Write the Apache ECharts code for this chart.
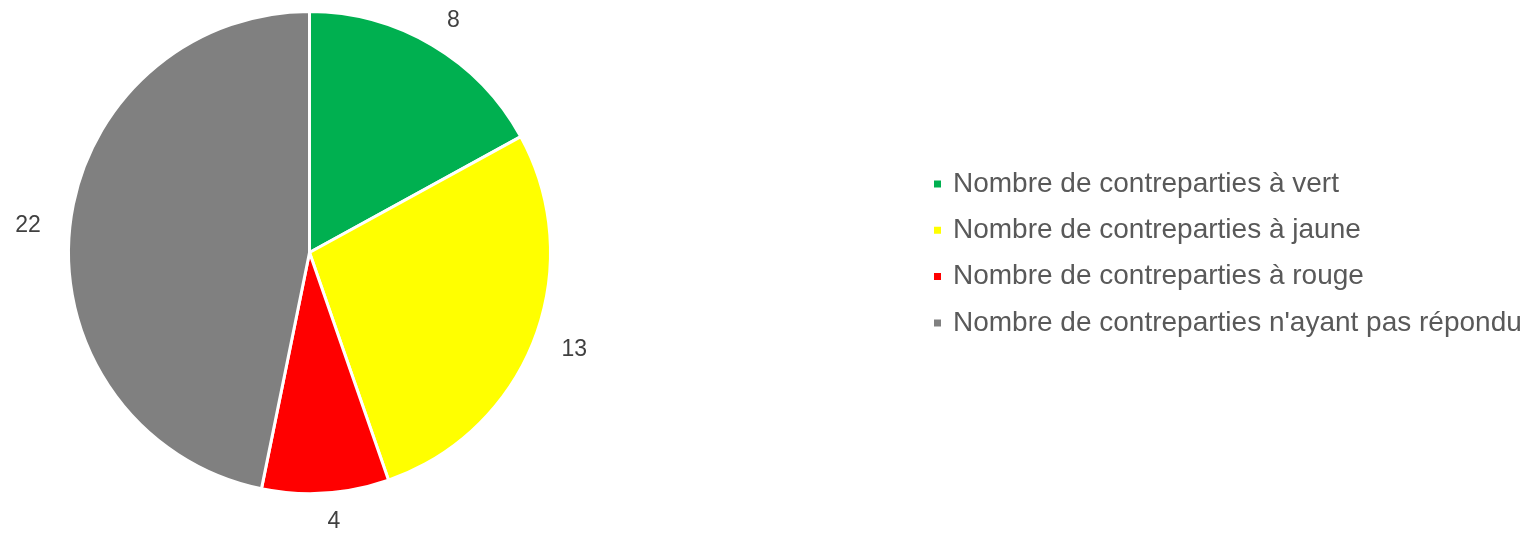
<!DOCTYPE html>
<html><head><meta charset="utf-8">
<script src="https://cdn.jsdelivr.net/npm/echarts@6/dist/echarts.min.js"></script>
<style>html,body{margin:0;padding:0;background:#fff}#c{width:1537px;height:535px}</style>
</head><body><div id="c"></div>
<script>
const categories = [
  "Nombre de contreparties à vert",
  "Nombre de contreparties à jaune",
  "Nombre de contreparties à rouge",
  "Nombre de contreparties n'ayant pas répondu"
];
const values = [8, 13, 4, 22];
const colors = ["#00B050", "#FFFF00", "#FF0000", "#808080"];

const chart = echarts.init(document.getElementById('c'));
chart.setOption({
  animation: false,
  textStyle: { fontFamily: "Liberation Sans, Arial, sans-serif" },
  legend: {
    orient: 'vertical',
    left: 932,
    top: 170,
    padding: 0,
    itemWidth: 9,
    itemHeight: 9,
    itemGap: 18.3,
    icon: 'rect',
    textStyle: { fontSize: 28, color: '#595959', fontFamily: "Liberation Sans, Arial, sans-serif", lineHeight: 28, padding: [0, 0, 0, 6] },
    data: categories
  },
  series: [{
    type: 'pie',
    center: [309.5, 252.5],
    radius: 241,
    startAngle: 90,
    clockwise: true,
    avoidLabelOverlap: false,
    itemStyle: { borderColor: '#fff', borderWidth: 3 },
    label: {
      show: true, position: 'outside', fontSize: 23, color: '#404040',
      fontFamily: "Liberation Sans, Arial, sans-serif", distanceToLabelLine: 0,
      formatter: '{c}'
    },
    labelLine: { show: false, length: 29, length2: 0 },
    emphasis: { disabled: true },
    data: categories.map((n, i) => ({ name: n, value: values[i], itemStyle: { color: colors[i] } }))
  }]
});
</script></body></html>
